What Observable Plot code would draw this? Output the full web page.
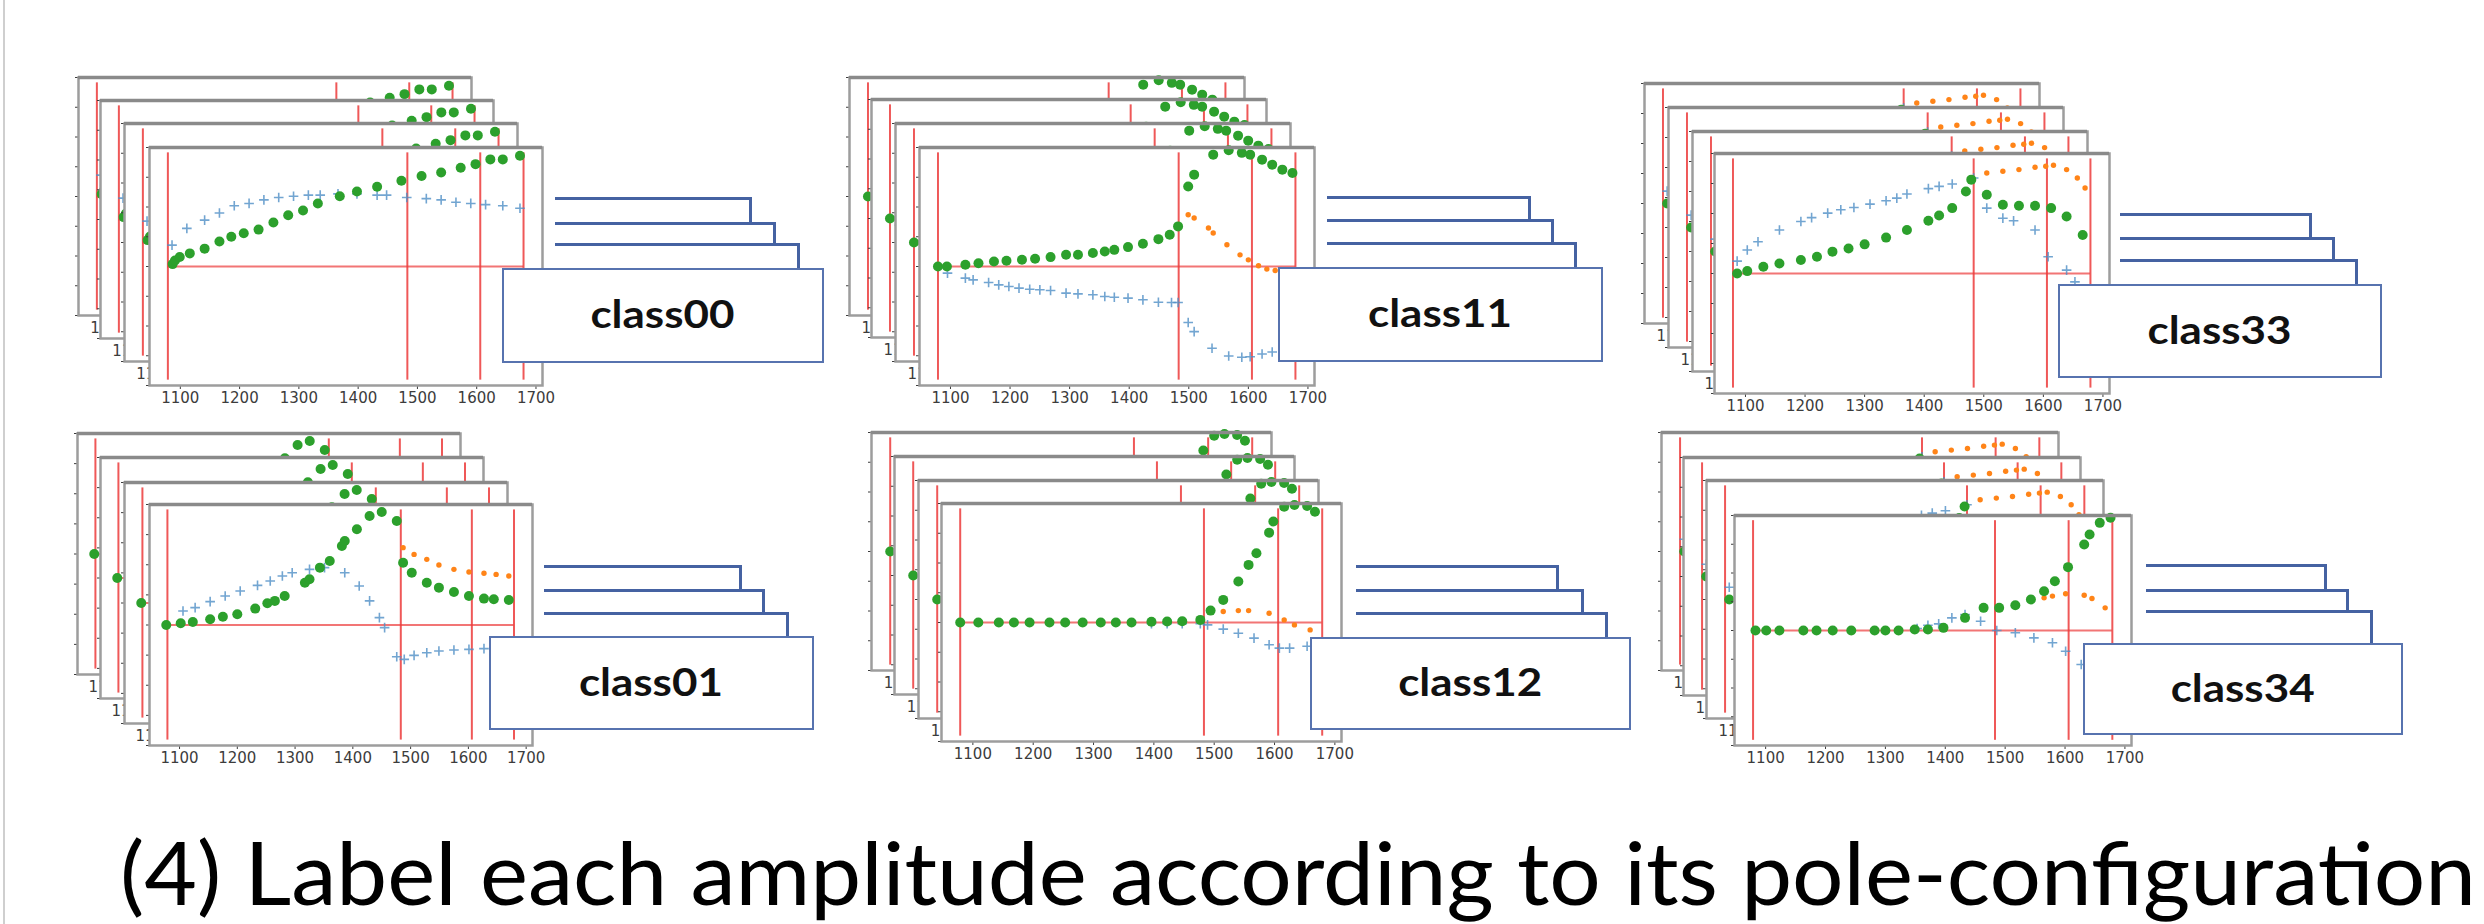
<!DOCTYPE html>
<html>
<head>
<meta charset="utf-8">
<script src="https://cdn.jsdelivr.net/npm/d3@7"></script>
<script src="https://cdn.jsdelivr.net/npm/@observablehq/plot@0.6"></script>
<style>
  html, body { margin: 0; padding: 0; background: #fff; }
  #page { position: relative; width: 2484px; height: 924px; overflow: hidden; background: #fff; }
  .abs { position: absolute; }
  .backbox { position: absolute; box-sizing: border-box; background: #fff;
             border-top: 3px solid #4562a2; border-right: 3px solid #4562a2; }
  .frontbox { position: absolute; box-sizing: border-box; background: #fff;
              border: 2.5px solid #5773af; }
</style>
</head>
<body>
<div id="page"></div>
<script>
// ---------------- data ----------------
const xDomain = [1048, 1711];
const xTicks = [1100, 1200, 1300, 1400, 1500, 1600, 1700];
const yTicks = [-1, -0.75, -0.5, -0.25, 0, 0.25, 0.5, 0.75, 1];
const thresholds = [1079, 1483, 1606, 1679];
const classNames = ["class00", "class11", "class33", "class01", "class12", "class34"];
const captionText = "(4) Label each amplitude according to its pole-configuration";

// class00
const c00Blue = [[1086,0.18],[1111,0.32],[1141,0.39],[1166,0.45],[1191,0.51],[1216,0.53],[1241,0.56],[1266,0.58],[1291,0.59],[1316,0.60],[1336,0.60],[1366,0.61],[1398,0.61],[1432,0.60],[1448,0.60],[1482,0.58],[1515,0.57],[1540,0.56],[1565,0.54],[1590,0.53],[1615,0.52],[1644,0.51],[1673,0.49]];
const c00Orange = [];
const c00Green = [[1087,0.02],[1091,0.05],[1099,0.08],[1116,0.11],[1141,0.15],[1166,0.21],[1186,0.25],[1207,0.28],[1232,0.31],[1257,0.37],[1282,0.43],[1307,0.47],[1332,0.53],[1369,0.59],[1398,0.63],[1432,0.67],[1473,0.72],[1507,0.76],[1540,0.79],[1573,0.83],[1598,0.86],[1623,0.90],[1644,0.90],[1673,0.93]];

// class11
const c11Blue = [[1095,-0.056],[1125,-0.098],[1138,-0.112],[1164,-0.135],[1181,-0.154],[1198,-0.168],[1215,-0.182],[1233,-0.191],[1250,-0.196],[1268,-0.202],[1294,-0.224],[1314,-0.23],[1339,-0.238],[1359,-0.252],[1375,-0.258],[1398,-0.266],[1423,-0.28],[1449,-0.3],[1471,-0.303],[1482,-0.303],[1499,-0.471],[1509,-0.547],[1539,-0.687],[1567,-0.752],[1589,-0.763],[1603,-0.758],[1623,-0.735],[1640,-0.718]];
const c11Orange = [[1499,0.435],[1509,0.407],[1533,0.323],[1541,0.281],[1564,0.183],[1586,0.098],[1600,0.056],[1617,0.006],[1631,-0.022],[1645,-0.034]];
const c11Green = [[1079,0],[1094,0.0],[1125,0.014],[1147,0.028],[1173,0.042],[1194,0.048],[1220,0.056],[1242,0.065],[1268,0.079],[1294,0.098],[1314,0.098],[1339,0.113],[1359,0.126],[1375,0.14],[1398,0.163],[1423,0.191],[1449,0.23],[1468,0.267],[1482,0.337],[1499,0.673],[1509,0.772],[1541,0.94],[1567,0.977],[1589,0.955],[1603,0.94],[1623,0.898],[1640,0.856],[1657,0.814],[1674,0.786]];

// class33
const c33Blue = [[1086,0.103],[1103,0.196],[1121,0.265],[1157,0.363],[1193,0.433],[1211,0.466],[1238,0.503],[1260,0.531],[1282,0.55],[1309,0.578],[1336,0.606],[1354,0.628],[1371,0.662],[1407,0.707],[1425,0.726],[1447,0.746],[1483,0.796],[1505,0.545],[1532,0.461],[1550,0.439],[1586,0.363],[1608,0.14],[1639,0.028],[1653,-0.07]];
const c33Orange = [[1505,0.838],[1532,0.852],[1559,0.866],[1586,0.885],[1604,0.894],[1617,0.902],[1639,0.866],[1657,0.796],[1670,0.712]];
const c33Green = [[1086,0.0],[1103,0.02],[1130,0.056],[1157,0.084],[1193,0.112],[1220,0.14],[1246,0.182],[1273,0.209],[1300,0.243],[1336,0.299],[1371,0.363],[1407,0.439],[1425,0.483],[1447,0.545],[1470,0.684],[1479,0.782],[1505,0.656],[1532,0.573],[1559,0.564],[1586,0.564],[1613,0.545],[1639,0.475],[1666,0.321]];

// class01
const c01Blue = [[1106,0.116],[1127,0.144],[1153,0.194],[1179,0.241],[1205,0.282],[1235,0.329],[1257,0.365],[1278,0.407],[1295,0.434],[1325,0.462],[1351,0.476],[1386,0.434],[1411,0.324],[1429,0.2],[1446,0.061],[1455,-0.022],[1476,-0.263],[1489,-0.285],[1506,-0.252],[1528,-0.23],[1549,-0.216],[1575,-0.207],[1601,-0.202],[1627,-0.196],[1644,-0.196]];
const c01Orange = [[1487,0.642],[1506,0.586],[1528,0.545],[1549,0.498],[1575,0.462],[1601,0.44],[1627,0.429],[1648,0.42],[1670,0.407]];
const c01Green = [[1077,0],[1102,0.014],[1123,0.025],[1153,0.047],[1175,0.069],[1200,0.089],[1231,0.136],[1252,0.18],[1265,0.2],[1282,0.24],[1317,0.351],[1325,0.379],[1343,0.476],[1360,0.531],[1381,0.656],[1386,0.697],[1407,0.794],[1429,0.905],[1450,0.938],[1476,0.863],[1487,0.517],[1502,0.434],[1528,0.351],[1549,0.31],[1575,0.274],[1601,0.241],[1627,0.219],[1644,0.213],[1670,0.207]];

// class12
const c12Blue = [[1396,-0.01],[1422,-0.01],[1447,-0.01],[1477,-0.01],[1489,-0.02],[1515,-0.056],[1540,-0.09],[1566,-0.131],[1591,-0.187],[1608,-0.215],[1625,-0.215],[1654,-0.2]];
const c12Orange = [[1494,0.092],[1515,0.092],[1540,0.1],[1557,0.1],[1591,0.078],[1616,0.022],[1633,-0.02],[1659,-0.062]];
const c12Green = [[1079,0],[1109,0],[1143,0],[1168,0],[1194,0],[1227,0],[1253,0],[1282,0],[1312,0],[1337,0],[1363,0],[1396,0.006],[1422,0.008],[1447,0.011],[1477,0.022],[1494,0.1],[1515,0.19],[1540,0.344],[1557,0.484],[1570,0.582],[1591,0.755],[1598,0.848],[1616,0.973],[1633,0.987],[1654,0.979],[1667,0.931]];

// class34
const c34Blue = [[1353,0.017],[1371,0.046],[1389,0.058],[1411,0.11],[1433,0.139],[1459,0.081],[1486,0],[1517,-0.02],[1548,-0.064],[1579,-0.107],[1601,-0.18],[1627,-0.296]];
const c34Orange = [[1565,0.284],[1579,0.299],[1601,0.319],[1632,0.307],[1645,0.278],[1667,0.197]];
const c34Green = [[1083,0],[1101,0],[1123,0],[1163,0],[1185,0],[1212,0],[1243,0],[1282,0],[1300,0],[1322,0],[1349,0.009],[1371,0.009],[1397,0.023],[1433,0.11],[1464,0.197],[1490,0.197],[1517,0.22],[1543,0.27],[1565,0.342],[1583,0.429],[1605,0.551],[1632,0.748],[1641,0.835],[1658,0.936],[1676,0.98]];

// ---------------- layout (pixel placement, not data) ----------------
// back: series shown in the three stacked back sheets; front: series in the front sheet
const layout = [
  { back: [c00Blue, c00Orange, c00Green], front: [c00Blue, c00Orange, c00Green], W: 393,
    frames: [[78,77,238],[100,100,238],[124,123,238],[148.5,147.3,238]],
    box: { start: 555, back: [[196.7,751.5],[221.7,776.4],[242.7,800.3]], l: 501.8, t: 268.3, r: 823.7, b: 362.7 } },
  { back: [c11Blue, c11Orange, c11Green], front: [c11Blue, c11Orange, c11Green], W: 395,
    frames: [[849.4,76.7,238],[870.8,99.3,238],[895.3,122.7,238],[919.3,147.3,238]],
    box: { start: 1327.4, back: [[196,1531.5],[219.3,1554.5],[241.7,1577.4]], l: 1278, t: 266.7, r: 1603, b: 361.7 } },
  { back: [c33Blue, c33Orange, c33Green], front: [c33Blue, c33Orange, c33Green], W: 395,
    frames: [[1643.8,82.7,240],[1667.6,106.7,240],[1691.5,130.7,240],[1714.2,152.7,240]],
    box: { start: 2120.3, back: [[213.3,2312.4],[236.7,2334.7],[259,2358.5]], l: 2058.3, t: 284, r: 2382.3, b: 378.3 } },
  { back: [c01Blue, c01Orange, c01Green], front: [c01Blue, c01Orange, c01Green], W: 383,
    frames: [[77.4,433.3,241],[99.8,457.3,241],[123.7,481.7,241],[148.5,504,241]],
    box: { start: 543.6, back: [[565,741.6],[589.3,765.5],[611.7,788.9]], l: 488.9, t: 636, r: 813.7, b: 730 } },
  { back: [c12Blue, c12Orange, c12Green], front: [c12Blue, c12Orange, c12Green], W: 400,
    frames: [[870.8,431.7,238],[893.8,456,238],[917.8,480,238],[941.2,503.3,238]],
    box: { start: 1355.5, back: [[565,1558.6],[589,1584],[611.7,1608]], l: 1309.6, t: 636.7, r: 1631, b: 730 } },
  { back: [c33Blue, c33Orange, c33Green], front: [c34Blue, c34Orange, c34Green], W: 397,
    frames: [[1661.3,431.7,238],[1682.5,456.7,238],[1705.8,480,238],[1733.8,515,230]],
    box: { start: 2145.7, back: [[564,2326.7],[589,2349.5],[610,2372.8]], l: 2083.2, t: 642.7, r: 2403.5, b: 735 } }
];

const ML = 12, MR = 4, MT = 4, MB = 32;
const page = document.getElementById("page");

// slide border line on the left
const border = document.createElement("div");
border.className = "abs";
Object.assign(border.style, { left: "3px", top: "0px", width: "2px", height: "924px", background: "#cfcfcf" });
page.appendChild(border);

function mini(series, W, H) {
  const [blue, orange, green] = series;
  return Plot.plot({
    width: W + ML + MR, height: H + MT + MB,
    marginLeft: ML, marginRight: MR, marginTop: MT, marginBottom: MB,
    style: { background: "transparent", fontSize: "15px", fontFamily: "'DejaVu Sans', sans-serif", color: "#3c3c3c", overflow: "visible" },
    x: { domain: xDomain, ticks: xTicks, tickSize: 4, tickPadding: 3, tickFormat: d => String(d), label: null },
    y: { domain: [-1, 1], ticks: yTicks, tickSize: 3, tickFormat: () => "", label: null },
    marks: [
      Plot.frame({ fill: "white", stroke: null }),
      Plot.ruleX(thresholds, { y1: () => -0.955, y2: () => 0.955, stroke: "#ec3b3b", strokeOpacity: 0.85, strokeWidth: 2 }),
      Plot.ruleY([0], { x1: () => thresholds[0], x2: () => thresholds[3], stroke: "#ec3b3b", strokeOpacity: 0.7, strokeWidth: 2 }),
      Plot.dot(blue, { x: d => d[0], y: d => d[1], symbol: "plus", r: 3.2, stroke: "#4f8fc6", strokeOpacity: 0.8, strokeWidth: 1.6 }),
      Plot.dot(orange, { x: d => d[0], y: d => d[1], r: 2.7, fill: "#ff8418", stroke: null }),
      Plot.dot(green, { x: d => d[0], y: d => d[1], r: 5, fill: "#2ca02c", stroke: null }),
      Plot.frame({ stroke: "#9d9d9d", strokeWidth: 2.5 }),
      Plot.ruleY([1], { stroke: "#8a8a8a", strokeWidth: 3.5 })
    ]
  });
}

for (const p of layout) {
  p.frames.forEach(([fx, fy, H], k) => {
    const svg = mini(k === p.frames.length - 1 ? p.front : p.back, p.W, H);
    svg.style.position = "absolute";
    svg.style.left = (fx - ML) + "px";
    svg.style.top = (fy - MT) + "px";
    svg.style.maxWidth = "none";
    page.appendChild(svg);
  });
}

const NS = "http://www.w3.org/2000/svg";
layout.forEach((p, i) => {
  const b = p.box;
  for (const [top, right] of b.back) {
    const d = document.createElement("div");
    d.className = "backbox";
    Object.assign(d.style, { left: b.start + "px", top: top + "px", width: (right - b.start) + "px", height: (b.t - top + 6) + "px" });
    page.appendChild(d);
  }
  const f = document.createElement("div");
  f.className = "frontbox";
  const w = b.r - b.l, h = b.b - b.t;
  Object.assign(f.style, { left: b.l + "px", top: b.t + "px", width: w + "px", height: h + "px" });
  const s = document.createElementNS(NS, "svg");
  s.setAttribute("width", w - 5); s.setAttribute("height", h - 5);
  s.style.display = "block";
  const t = document.createElementNS(NS, "text");
  t.setAttribute("x", (w - 5) / 2);
  t.setAttribute("y", (h - 5) / 2 + 13);
  t.setAttribute("text-anchor", "middle");
  t.setAttribute("font-family", "Lato, 'Open Sans', sans-serif");
  t.setAttribute("font-weight", "bold");
  t.setAttribute("font-size", "39");
  t.setAttribute("fill", "#111");
  t.setAttribute("textLength", "144");
  t.setAttribute("lengthAdjust", "spacingAndGlyphs");
  t.textContent = classNames[i];
  s.appendChild(t);
  f.appendChild(s);
  page.appendChild(f);
});

// caption
const cap = document.createElementNS(NS, "svg");
cap.setAttribute("width", 2484); cap.setAttribute("height", 124);
Object.assign(cap.style, { position: "absolute", left: "0px", top: "800px" });
const ct = document.createElementNS(NS, "text");
ct.setAttribute("x", 120); ct.setAttribute("y", 105);
ct.setAttribute("font-family", "Lato, 'Open Sans', sans-serif");
ct.setAttribute("font-size", "87");
ct.setAttribute("fill", "#000");
ct.setAttribute("textLength", "2356");
ct.setAttribute("lengthAdjust", "spacingAndGlyphs");
ct.textContent = captionText;
cap.appendChild(ct);
page.appendChild(cap);
</script>
</body>
</html>
